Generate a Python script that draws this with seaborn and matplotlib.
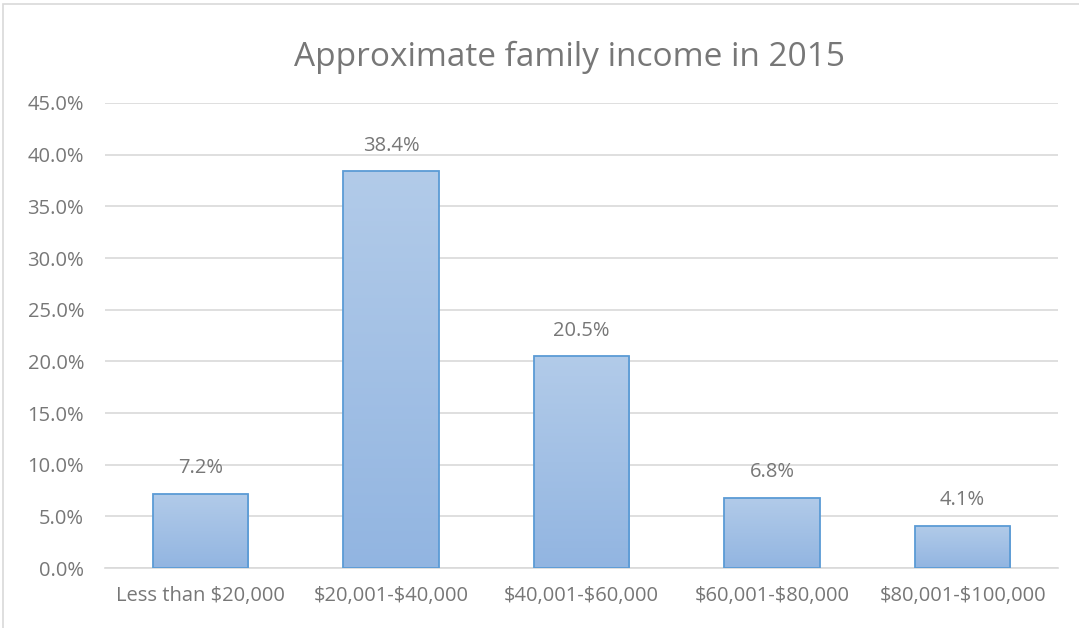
import matplotlib
matplotlib.use("Agg")
import matplotlib.pyplot as plt
import seaborn as sns
import numpy as np
import pandas as pd
from matplotlib.patches import Rectangle
from matplotlib.colors import LinearSegmentedColormap

categories = ["Less than $20,000", "$20,001-$40,000", "$40,001-$60,000", "$60,001-$80,000", "$80,001-$100,000"]
values = [7.2, 38.4, 20.5, 6.8, 4.1]
yticks = [0, 5, 10, 15, 20, 25, 30, 35, 40, 45]
title = "Approximate family income in 2015"

sns.set_theme(style="white")
plt.rcParams['font.family'] = ['Open Sans', 'DejaVu Sans']

TXT = "#777777"
df = pd.DataFrame({"cat": categories, "val": values})

fig = plt.figure(figsize=(10.79, 6.28), dpi=100)
ax = fig.add_axes([0.0973, 0.0955, 0.8832, 0.7405])
sns.barplot(data=df, x="cat", y="val", ax=ax, width=0.5, color="#a4c2e6",
            edgecolor="#5b9bd5", linewidth=1.3, zorder=3)

# gradient fill
grad = np.linspace(0, 1, 256).reshape(-1, 1)
cmap = LinearSegmentedColormap.from_list("g", ["#92b5e1", "#b2cbe9"])
for p in ax.patches:
    x0, y0 = p.get_x(), p.get_y()
    w, h = p.get_width(), p.get_height()
    im = ax.imshow(grad, extent=[x0, x0 + w, y0, y0 + h], origin="lower", cmap=cmap,
                   aspect="auto", zorder=3.5)
    im.set_clip_path(p)
    p.set_facecolor("none")
    p.set_zorder(4)

ax.set_xlim(-0.5, 4.5)
ax.set_ylim(0, 45)
ax.set_yticks(yticks)
ax.set_yticklabels([f"{t:.1f}%" for t in yticks])
ax.set_xticks(range(len(categories)))
ax.set_xticklabels([c.replace("$", r"\$") for c in categories])
ax.yaxis.grid(True, color="#d9d9d9", linewidth=1.2, zorder=0)
ax.set_axisbelow(True)
for s in ["top", "right", "left"]:
    ax.spines[s].set_visible(False)
ax.spines["bottom"].set_color("#d9d9d9")
ax.spines["bottom"].set_linewidth(1.2)
ax.tick_params(axis="both", length=0, labelsize=14.5, labelcolor=TXT)
ax.tick_params(axis="x", pad=13)
ax.tick_params(axis="y", pad=15)
ax.set_xlabel("")
ax.set_ylabel("")

for i, v in enumerate(values):
    ax.text(i, v + 1.5, f"{v:.1f}%", ha="center", va="bottom", fontsize=14.5, color=TXT, zorder=5)

fig.text(0.528, 0.908, title, ha="center", va="center", fontsize=24, color=TXT)

# outer border (top and left visible)
fig.patches.append(Rectangle((3 / 1079, -0.1), 1.2, (628 - 4) / 628 + 0.1, transform=fig.transFigure,
                             fill=False, edgecolor="#d9d9d9", linewidth=1.2))

fig.savefig("out.png", dpi=100)
